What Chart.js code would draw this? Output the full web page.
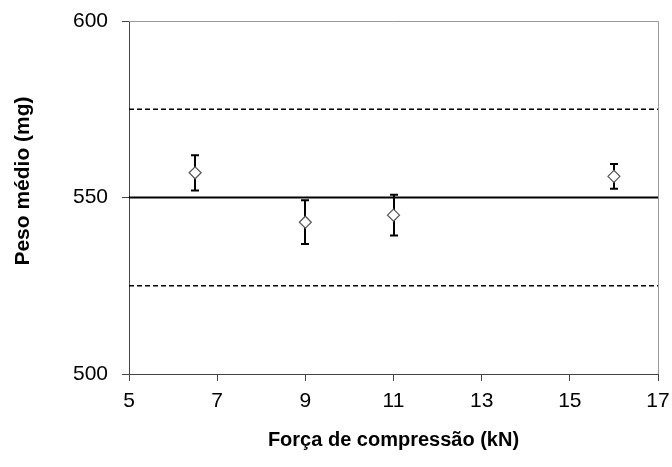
<!DOCTYPE html>
<html>
<head>
  <meta charset="UTF-8">
  <title>Peso médio x Força de compressão</title>
  <script src="https://cdn.jsdelivr.net/npm/chart.js"></script>
  <style>
    body { margin: 0; background: #fff; }
    #box { width: 672px; height: 467px; }
  </style>
  <script>
    // dados
    var forca = [6.5, 9, 11, 16];            // kN
    var pesoMedio = [557, 543, 545, 556];    // mg
    var desvio = [5, 6.2, 5.8, 3.5];         // barra de erro (+/-)
    var pesoAlvo = 550;
    var limiteSup = 575;
    var limiteInf = 525;
    var xTicks = [5, 7, 9, 11, 13, 15, 17];
    var yTicks = [500, 550, 600];

    function linhaHorizontal(valor) {
      return [{ x: xTicks[0], y: valor }, { x: xTicks[xTicks.length - 1], y: valor }];
    }

    // barras de erro, desenhadas antes dos losangos
    var errorBars = {
      id: "errorBars",
      beforeDatasetDraw: function(chart, args) {
        if (args.index !== 3) return;
        var ctx = chart.ctx, xs = chart.scales.x, ys = chart.scales.y;
        ctx.save();
        ctx.strokeStyle = "#000";
        ctx.lineWidth = 2;
        for (var i = 0; i < forca.length; i++) {
          var px = Math.round(xs.getPixelForValue(forca[i]));
          var top = ys.getPixelForValue(pesoMedio[i] + desvio[i]);
          var bot = ys.getPixelForValue(pesoMedio[i] - desvio[i]);
          ctx.beginPath();
          ctx.moveTo(px, top); ctx.lineTo(px, bot);
          ctx.moveTo(px - 4, top); ctx.lineTo(px + 4, top);
          ctx.moveTo(px - 4, bot); ctx.lineTo(px + 4, bot);
          ctx.stroke();
        }
        ctx.restore();
      }
    };

    // moldura cinza (topo e direita) e titulo do eixo y
    var moldura = {
      id: "moldura",
      afterDraw: function(chart) {
        var ctx = chart.ctx, a = chart.chartArea;
        ctx.save();
        ctx.strokeStyle = "#999";
        ctx.lineWidth = 1;
        ctx.beginPath();
        ctx.moveTo(a.left, a.top + 0.5); ctx.lineTo(a.right + 0.5, a.top + 0.5);
        ctx.lineTo(a.right + 0.5, a.bottom);
        ctx.stroke();

        ctx.translate(23, 181);
        ctx.rotate(-Math.PI / 2);
        ctx.fillStyle = "#000";
        ctx.font = "bold 21px 'Liberation Sans', Arial, sans-serif";
        ctx.textAlign = "center";
        ctx.textBaseline = "middle";
        ctx.fillText("Peso médio (mg)", 0, 0);
        ctx.restore();
      }
    };

    function init() {
      var ctx = document.getElementById("grafico").getContext("2d");
      var fonte = { family: "'Liberation Sans', Arial, sans-serif", size: 21 };

      new Chart(ctx, {
        type: "scatter",
        data: {
          datasets: [
            { type: "line", data: linhaHorizontal(limiteSup), borderColor: "#000", borderWidth: 1.5,
              borderDash: [5, 3], pointRadius: 0, fill: false },
            { type: "line", data: linhaHorizontal(pesoAlvo), borderColor: "#000", borderWidth: 2,
              pointRadius: 0, fill: false },
            { type: "line", data: linhaHorizontal(limiteInf), borderColor: "#000", borderWidth: 1.5,
              borderDash: [5, 3], pointRadius: 0, fill: false },
            {
              label: "Peso médio",
              data: forca.map(function(f, i) { return { x: f, y: pesoMedio[i] }; }),
              pointStyle: "rectRot",
              pointRadius: 6,
              pointBackgroundColor: "#fff",
              pointBorderColor: "#555",
              pointBorderWidth: 1.2
            }
          ]
        },
        options: {
          responsive: false,
          animation: false,
          layout: { padding: { left: 0, right: 14, top: 21, bottom: 0 } },
          plugins: { legend: { display: false }, tooltip: { enabled: false } },
          scales: {
            x: {
              type: "linear",
              min: 5, max: 17,
              afterBuildTicks: function(s) { s.ticks = xTicks.map(function(v) { return { value: v }; }); },
              afterFit: function(s) { s.height = 93; s.paddingLeft = 0; s.paddingRight = 0; },
              grid: { drawOnChartArea: false, tickLength: 7, color: "#444" },
              border: { color: "#444", width: 1 },
              ticks: { color: "#000", font: fonte, padding: 8, maxRotation: 0 },
              title: {
                display: true,
                text: "Força de compressão (kN)",
                color: "#000",
                font: { family: fonte.family, size: 20, weight: "bold" },
                padding: { top: 0, bottom: 15 }
              }
            },
            y: {
              min: 500, max: 600,
              afterBuildTicks: function(s) { s.ticks = yTicks.map(function(v) { return { value: v }; }); },
              afterFit: function(s) { s.width = 129; s.paddingTop = 0; s.paddingBottom = 0; },
              grid: { drawOnChartArea: false, tickLength: 7, color: "#444" },
              border: { color: "#444", width: 1 },
              ticks: { color: "#000", font: fonte, padding: 14 }
            }
          }
        },
        plugins: [errorBars, moldura]
      });
    }
  </script>
</head>
<body onload="init()">
  <div id="box"><canvas id="grafico" width="672" height="467"></canvas></div>
</body>
</html>
